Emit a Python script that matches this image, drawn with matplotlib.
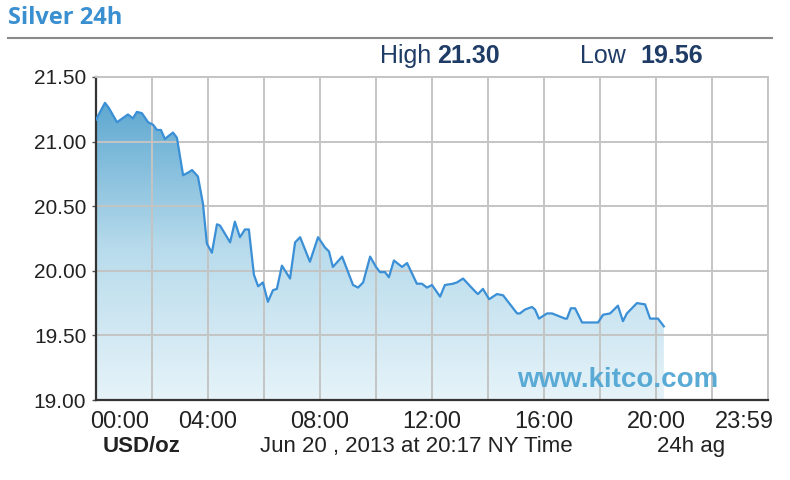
import matplotlib
matplotlib.use("Agg")
import matplotlib.pyplot as plt
import numpy as np
from matplotlib.colors import LinearSegmentedColormap

# Silver spot price, hours since midnight NY time
hours = [0.00, 0.32, 0.46, 0.75, 1.14, 1.32, 1.46, 1.64, 1.86, 2.04, 2.18, 2.32,
         2.46, 2.57, 2.75, 2.89, 3.11, 3.29, 3.43, 3.64, 3.82, 3.96, 4.14, 4.32,
         4.43, 4.79, 4.96, 5.14, 5.32, 5.46, 5.64, 5.79, 5.96, 6.14, 6.32, 6.46,
         6.64, 6.93, 7.11, 7.29, 7.64, 7.93, 8.18, 8.32, 8.46, 8.79, 9.18, 9.36,
         9.54, 9.79, 10.00, 10.14, 10.32, 10.46, 10.64, 10.93, 11.11, 11.46, 11.64,
         11.82, 12.00, 12.29, 12.46, 12.75, 12.89, 13.11, 13.54, 13.64, 13.82, 14.04,
         14.32, 14.54, 14.79, 15.04, 15.14, 15.32, 15.57, 15.68, 15.82, 16.11, 16.29,
         16.75, 16.82, 16.96, 17.11, 17.36, 17.93, 18.11, 18.36, 18.64, 18.82, 18.96,
         19.32, 19.61, 19.79, 20.07, 20.28]
prices = [21.17, 21.30, 21.26, 21.15, 21.21, 21.18, 21.23, 21.22, 21.15, 21.13, 21.09, 21.09,
          21.02, 21.04, 21.07, 21.03, 20.74, 20.76, 20.78, 20.73, 20.52, 20.21, 20.14, 20.36,
          20.35, 20.22, 20.38, 20.26, 20.32, 20.32, 19.97, 19.88, 19.91, 19.76, 19.85, 19.86,
          20.04, 19.94, 20.22, 20.26, 20.07, 20.26, 20.18, 20.15, 20.03, 20.11, 19.89, 19.87,
          19.91, 20.11, 20.03, 19.99, 19.99, 19.95, 20.08, 20.03, 20.06, 19.90, 19.90,
          19.87, 19.89, 19.80, 19.89, 19.90, 19.91, 19.94, 19.84, 19.82, 19.86, 19.78,
          19.82, 19.81, 19.74, 19.67, 19.67, 19.70, 19.72, 19.70, 19.63, 19.67, 19.67,
          19.63, 19.63, 19.71, 19.71, 19.60, 19.60, 19.66, 19.67, 19.73, 19.61, 19.67,
          19.75, 19.74, 19.63, 19.63, 19.57]

y_ticks = [19.0, 19.5, 20.0, 20.5, 21.0, 21.5]
x_ticks = [0, 4, 8, 12, 16, 20, 24]
x_labels = ["00:00", "04:00", "08:00", "12:00", "16:00", "20:00", "23:59"]
high_val = "21.30"
low_val = "19.56"

font = "Liberation Sans"
grid_col = "#c4c4c4"
W, H = 790, 480


def fy(py):
    # pixel row -> figure fraction
    return 1 - py / H


fig = plt.figure(figsize=(7.9, 4.8), dpi=100)
ax = fig.add_axes([96 / W, fy(400), 672 / W, 323 / H])

ax.set_xlim(0, 24)
ax.set_ylim(19.0, 21.5)

# gradient fill under the line
cmap = LinearSegmentedColormap.from_list("fill", ["#e6f3f9", "#b9dcec", "#5ea8d1"])
grad = np.linspace(0, 1, 256).reshape(-1, 1)
img = ax.imshow(grad, cmap=cmap, origin="lower", aspect="auto",
                extent=[0, 24, 19.0, 21.3], zorder=1)
poly = ax.fill_between(hours, prices, 19.0, facecolor="none", edgecolor="none")
img.set_clip_path(poly.get_paths()[0], transform=ax.transData)

ax.plot(hours, prices, color="#3a8fd6", lw=1.6, zorder=3)

# grid
ax.set_xticks(x_ticks)
ax.set_xticks(np.arange(0, 25, 2), minor=True)
ax.set_yticks(y_ticks)
ax.grid(True, which="both", color=grid_col, lw=1.4, zorder=2)
for ln in ax.get_xgridlines() + ax.get_ygridlines():
    ln.set_zorder(2)

ax.set_xticklabels([])
for h, lab in zip(x_ticks, x_labels):
    if h == 0:
        ha, xx = "left", -0.22
    elif h == 24:
        ha, xx = "right", 24.2
    else:
        ha, xx = "center", h
    ax.text(xx, 18.783, lab, ha=ha, va="baseline", fontsize=17, family=font,
            color="#222222", clip_on=False)
ax.set_yticklabels([f"{v:.2f}" for v in y_ticks], fontsize=15, family=font, color="#222222")
ax.tick_params(axis="y", length=3, width=1, color="#555555", pad=4)
ax.tick_params(axis="x", which="both", length=0)

for side in ["top", "right"]:
    ax.spines[side].set_color(grid_col)
    ax.spines[side].set_linewidth(1.4)
for side in ["left", "bottom"]:
    ax.spines[side].set_color("#333333")
    ax.spines[side].set_linewidth(1.6)

# watermark
fig.text(718 / W, fy(387), "www.kitco.com", ha="right", va="baseline",
         fontsize=20, family=font, weight="bold", color="#5aaad6", zorder=5)

# header
fig.text(8 / W, fy(24), "Silver 24h", fontsize=17, family="Open Sans",
         weight="bold", color="#3a8fd0", va="baseline", ha="left")
fig.add_artist(plt.Line2D([8 / W, 772 / W], [fy(38), fy(38)], color="#8a8a8a", lw=1.5))
navy = "#1f3c66"
fig.text(380 / W, fy(63), "High", fontsize=18, family=font, color=navy, va="baseline")
fig.text(437 / W, fy(63), high_val, fontsize=18, family=font, weight="bold",
         color=navy, va="baseline")
fig.text(580 / W, fy(63), "Low", fontsize=18, family=font, color=navy, va="baseline")
fig.text(640 / W, fy(63), low_val, fontsize=18, family=font, weight="bold",
         color=navy, va="baseline")

# footer
fig.text(103 / W, fy(452), "USD/oz", fontsize=16, family=font, weight="bold",
         color="#222222", va="baseline")
fig.text(260 / W, fy(452), "Jun 20 , 2013 at 20:17 NY Time", fontsize=16,
         family=font, color="#222222", va="baseline")
fig.text(657 / W, fy(452), "24h ag", fontsize=16, family=font,
         color="#222222", va="baseline")

fig.savefig("out.png", dpi=100)
